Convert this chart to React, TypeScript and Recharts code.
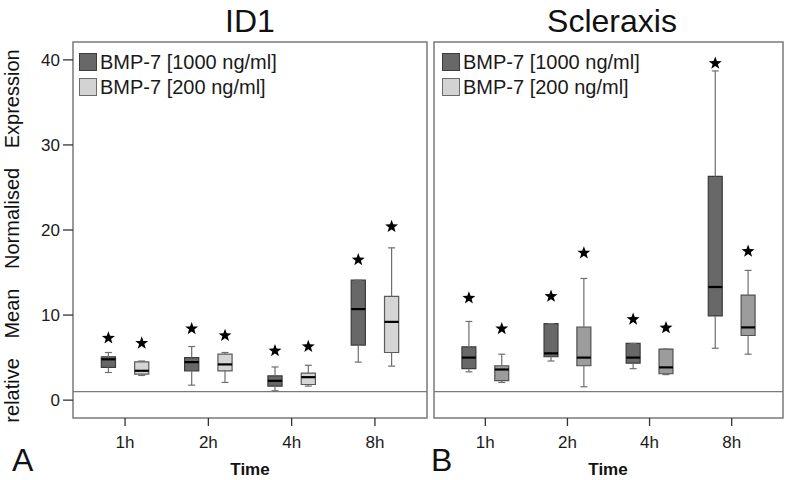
import React from 'react';
import { ComposedChart, ReferenceArea, ReferenceLine, Scatter, XAxis, YAxis } from 'recharts';

const CATEGORIES = ['1h', '2h', '4h', '8h'];
const Y_TICKS = [0, 10, 20, 30, 40];
const LEGEND_LABELS = ['BMP-7 [1000 ng/ml]', 'BMP-7 [200 ng/ml]'];

// ID1, BMP-7 1000 ng/ml
const ID1_1000_MIN = [3.25, 1.76, 1.1, 4.47];
const ID1_1000_Q1 = [3.85, 3.45, 1.65, 6.47];
const ID1_1000_MED = [4.8, 4.47, 2.27, 10.7];
const ID1_1000_Q3 = [5.1, 5.0, 2.86, 14.1];
const ID1_1000_MAX = [5.6, 6.3, 3.9, 14.1];
const ID1_1000_STAR = [7.3, 8.4, 5.8, 16.5];

// ID1, BMP-7 200 ng/ml
const ID1_200_MIN = [2.9, 2.08, 1.65, 4.0];
const ID1_200_Q1 = [3.05, 3.45, 1.84, 5.6];
const ID1_200_MED = [3.45, 4.2, 2.7, 9.2];
const ID1_200_Q3 = [4.5, 5.4, 3.18, 12.2];
const ID1_200_MAX = [4.6, 5.6, 4.1, 17.9];
const ID1_200_STAR = [6.7, 7.6, 6.3, 20.4];

// Scleraxis, BMP-7 1000 ng/ml
const SCX_1000_MIN = [3.33, 4.6, 3.7, 6.1];
const SCX_1000_Q1 = [3.7, 5.1, 4.35, 9.9];
const SCX_1000_MED = [5.0, 5.5, 5.0, 13.3];
const SCX_1000_Q3 = [6.27, 9.0, 6.67, 26.3];
const SCX_1000_MAX = [9.25, 9.0, 6.67, 38.7];
const SCX_1000_STAR = [12.0, 12.2, 9.5, 39.6];

// Scleraxis, BMP-7 200 ng/ml
const SCX_200_MIN = [2.08, 1.57, 3.0, 5.4];
const SCX_200_Q1 = [2.3, 4.04, 3.1, 7.6];
const SCX_200_MED = [3.6, 5.0, 3.85, 8.55];
const SCX_200_Q3 = [4.04, 8.6, 6.0, 12.35];
const SCX_200_MAX = [5.4, 14.3, 6.0, 15.25];
const SCX_200_STAR = [8.4, 17.3, 8.5, 17.5];

const FONT = '"Liberation Sans", Arial, sans-serif';
const X_DOMAIN: [number, number] = [0.375, 4.625];
const Y_DOMAIN: [number, number] = [-2.1, 42.1];
const DODGE = 0.2;
const HALF_BOX = 0.085;
const HALF_CAP = 0.042;

const DARK = { fill: '#686868', stroke: '#3c3c3c' };
const LIGHT_A = { fill: '#d5d5d5', stroke: '#5a5a5a' };
const LIGHT_B = { fill: '#9c9c9c', stroke: '#505050' };

interface BoxSeries {
  min: number[];
  q1: number[];
  med: number[];
  q3: number[];
  max: number[];
  star: number[];
  offset: number;
  fill: string;
  stroke: string;
}

function StarShape(props: any) {
  const { cx, cy } = props;
  if (cx == null || cy == null) return null;
  const outer = 6.8;
  const inner = 2.8;
  const pts: string[] = [];
  for (let k = 0; k < 10; k++) {
    const r = k % 2 === 0 ? outer : inner;
    const a = -Math.PI / 2 + (k * Math.PI) / 5;
    pts.push(`${cx + r * Math.cos(a)},${cy + r * Math.sin(a)}`);
  }
  return <polygon points={pts.join(' ')} fill="#000" />;
}

function renderBoxes(s: BoxSeries, key: string) {
  return CATEGORIES.map((cat, i) => {
    const x = i + 1 + s.offset;
    return (
      <React.Fragment key={`${key}-${cat}`}>
        <ReferenceLine segment={[{ x, y: s.min[i] }, { x, y: s.q1[i] }]} stroke="#6e6e6e" strokeWidth={1.2} />
        <ReferenceLine segment={[{ x, y: s.q3[i] }, { x, y: s.max[i] }]} stroke="#6e6e6e" strokeWidth={1.2} />
        <ReferenceLine
          segment={[{ x: x - HALF_CAP, y: s.min[i] }, { x: x + HALF_CAP, y: s.min[i] }]}
          stroke="#6e6e6e"
          strokeWidth={1.2}
        />
        <ReferenceLine
          segment={[{ x: x - HALF_CAP, y: s.max[i] }, { x: x + HALF_CAP, y: s.max[i] }]}
          stroke="#6e6e6e"
          strokeWidth={1.2}
        />
        <ReferenceArea
          x1={x - HALF_BOX}
          x2={x + HALF_BOX}
          y1={s.q1[i]}
          y2={s.q3[i]}
          fill={s.fill}
          fillOpacity={1}
          stroke={s.stroke}
          strokeWidth={1.2}
        />
        <ReferenceLine
          segment={[{ x: x - HALF_BOX, y: s.med[i] }, { x: x + HALF_BOX, y: s.med[i] }]}
          stroke="#000"
          strokeWidth={2.2}
        />
      </React.Fragment>
    );
  });
}

interface PanelProps {
  width: number;
  left: number;
  margin: { top: number; right: number; bottom: number; left: number };
  yAxisWidth: number;
  showYLabels: boolean;
  series: BoxSeries[];
}

function Panel({ width, left, margin, yAxisWidth, showYLabels, series }: PanelProps) {
  return (
    <div style={{ position: 'absolute', left, top: 0 }}>
      <ComposedChart width={width} height={480} margin={margin}>
        <XAxis
          type="number"
          dataKey="x"
          domain={X_DOMAIN}
          ticks={[1, 2, 3, 4]}
          tickFormatter={(v: number) => CATEGORIES[v - 1] ?? ''}
          allowDataOverflow
          axisLine={false}
          tickLine={{ stroke: '#333', strokeWidth: 1.3 }}
          tickSize={8}
          tickMargin={10}
          height={40}
          tick={{ fontSize: 17, fill: '#1a1a1a', fontFamily: FONT }}
        />
        <YAxis
          type="number"
          dataKey="y"
          domain={Y_DOMAIN}
          ticks={Y_TICKS}
          allowDataOverflow
          axisLine={false}
          tickLine={{ stroke: '#333', strokeWidth: 1.3 }}
          tickSize={showYLabels ? 10 : 7}
          tickMargin={3}
          width={yAxisWidth}
          tick={showYLabels ? { fontSize: 17, fill: '#1a1a1a', fontFamily: FONT } : false}
        />
        <ReferenceArea
          x1={X_DOMAIN[0]}
          x2={X_DOMAIN[1]}
          y1={Y_DOMAIN[0]}
          y2={Y_DOMAIN[1]}
          fill="none"
          stroke="#7a7a7a"
          strokeWidth={1.5}
        />
        <ReferenceLine y={1} stroke="#7a7a7a" strokeWidth={1.2} />
        {series.map((s, j) => renderBoxes(s, `s${j}`))}
        {series.map((s, j) => (
          <Scatter
            key={`star${j}`}
            data={CATEGORIES.map((c, i) => ({ x: i + 1 + s.offset, y: s.star[i] }))}
            shape={StarShape}
            isAnimationActive={false}
          />
        ))}
      </ComposedChart>
    </div>
  );
}

function LegendBox({ left, top }: { left: number; top: number }) {
  const swatches = [DARK, { fill: '#d3d3d3', stroke: '#6a6a6a' }];
  return (
    <div style={{ position: 'absolute', left, top, fontFamily: FONT, fontSize: 20, color: '#1a1a1a' }}>
      {LEGEND_LABELS.map((label, i) => (
        <div key={label} style={{ display: 'flex', alignItems: 'center', height: 25 }}>
          <span
            style={{
              display: 'inline-block',
              width: 16,
              height: 16,
              background: swatches[i].fill,
              border: `1.2px solid ${swatches[i].stroke}`,
              marginRight: 3,
            }}
          />
          <span style={{ lineHeight: '20px' }}>{label}</span>
        </div>
      ))}
    </div>
  );
}

export default function App() {
  const seriesA: BoxSeries[] = [
    { min: ID1_1000_MIN, q1: ID1_1000_Q1, med: ID1_1000_MED, q3: ID1_1000_Q3, max: ID1_1000_MAX, star: ID1_1000_STAR, offset: -DODGE, ...DARK },
    { min: ID1_200_MIN, q1: ID1_200_Q1, med: ID1_200_MED, q3: ID1_200_Q3, max: ID1_200_MAX, star: ID1_200_STAR, offset: DODGE, ...LIGHT_A },
  ];
  const seriesB: BoxSeries[] = [
    { min: SCX_1000_MIN, q1: SCX_1000_Q1, med: SCX_1000_MED, q3: SCX_1000_Q3, max: SCX_1000_MAX, star: SCX_1000_STAR, offset: -DODGE, ...DARK },
    { min: SCX_200_MIN, q1: SCX_200_Q1, med: SCX_200_MED, q3: SCX_200_Q3, max: SCX_200_MAX, star: SCX_200_STAR, offset: DODGE, ...LIGHT_B },
  ];

  return (
    <div style={{ position: 'absolute', left: 0, top: 0, width: 787, height: 480, background: '#fff', overflow: 'hidden' }}>
      <Panel
        width={430}
        left={0}
        margin={{ top: 42, right: 3, bottom: 22, left: 33 }}
        yAxisWidth={40}
        showYLabels
        series={seriesA}
      />
      <Panel
        width={367}
        left={420}
        margin={{ top: 42, right: 4, bottom: 22, left: 0 }}
        yAxisWidth={14}
        showYLabels={false}
        series={seriesB}
      />
      <LegendBox left={79} top={49} />
      <LegendBox left={442} top={49} />
      <svg width={787} height={480} style={{ position: 'absolute', left: 0, top: 0, pointerEvents: 'none' }}>
        <g fontFamily={FONT} fill="#111">
          <text x={250} y={32} fontSize={32} textAnchor="middle">ID1</text>
          <text x={612} y={32} fontSize={32} textAnchor="middle">Scleraxis</text>
          <text
            transform="translate(19,236) rotate(-90)"
            fontSize={20}
            textAnchor="middle"
            style={{ wordSpacing: '14px' }}
          >
            relative Mean Normalised Expression
          </text>
          <text x={250} y={475} fontSize={17} fontWeight="bold" textAnchor="middle">Time</text>
          <text x={608} y={475} fontSize={17} fontWeight="bold" textAnchor="middle">Time</text>
          <text x={12} y={471} fontSize={32}>A</text>
          <text x={431} y={471} fontSize={32}>B</text>
        </g>
      </svg>
    </div>
  );
}
